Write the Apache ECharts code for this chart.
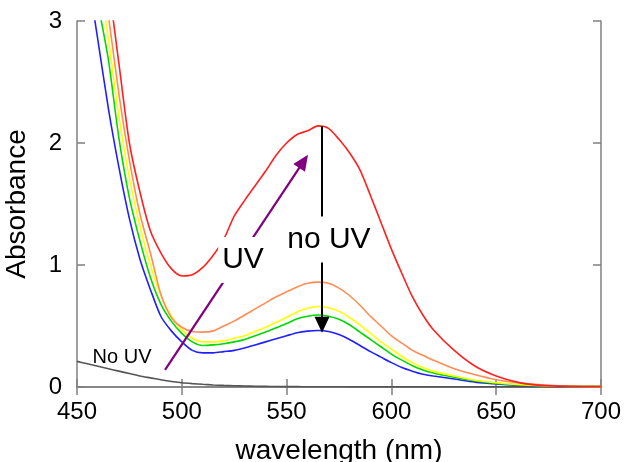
<!DOCTYPE html>
<html>
<head>
<meta charset="utf-8">
<script src="https://cdn.jsdelivr.net/npm/echarts@6/dist/echarts.min.js"></script>
<style>
  html, body { margin: 0; padding: 0; background: #fff; }
  #chart { width: 624px; height: 462px; }
</style>
</head>
<body>
<div id="chart"></div>
<script>
var font = "'Liberation Sans', Arial, sans-serif";

// wavelength grid (nm)
var wl = [450, 455, 460, 465, 470, 475, 480, 485, 490, 495, 500, 505, 510, 515, 520, 525, 530, 535, 540, 545,
    550, 555, 560, 565, 570, 575, 580, 585, 590, 595, 600, 605, 610, 615, 620, 630, 640, 650, 660, 670, 680, 690, 700];

// absorbance
var red = [5.5, 4.6, 3.8, 3.3, 2.65, 2.0, 1.60, 1.28, 1.10, 0.97, 0.91, 0.92, 0.98, 1.08, 1.21, 1.40, 1.53, 1.65, 1.77, 1.90,
    2.00, 2.07, 2.10, 2.14, 2.12, 2.03, 1.92, 1.78, 1.57, 1.35, 1.13, 0.93, 0.74, 0.59, 0.47, 0.30, 0.17, 0.09, 0.04, 0.015, 0.007, 0.004, 0.003];
var orange = [5.0, 4.2, 3.6, 3.04, 2.40, 1.86, 1.42, 1.10, 0.76, 0.57, 0.49, 0.455, 0.45, 0.46, 0.50, 0.54, 0.59, 0.64, 0.69, 0.74,
    0.78, 0.82, 0.85, 0.86, 0.85, 0.81, 0.75, 0.67, 0.58, 0.50, 0.42, 0.36, 0.30, 0.26, 0.22, 0.15, 0.10, 0.06, 0.035, 0.02, 0.01, 0.005, 0.003];
var yellow = [4.5, 3.9, 3.4, 2.85, 2.22, 1.71, 1.32, 1.0, 0.75, 0.58, 0.47, 0.40, 0.37, 0.37, 0.38, 0.40, 0.42, 0.455, 0.49, 0.53,
    0.57, 0.615, 0.645, 0.66, 0.65, 0.62, 0.57, 0.51, 0.44, 0.37, 0.31, 0.25, 0.20, 0.16, 0.13, 0.09, 0.055, 0.035, 0.02, 0.012, 0.007, 0.004, 0.003];
var green = [4.3, 3.7, 3.15, 2.68, 2.04, 1.55, 1.20, 0.90, 0.68, 0.54, 0.44, 0.37, 0.34, 0.345, 0.355, 0.37, 0.39, 0.42, 0.45, 0.485,
    0.52, 0.56, 0.58, 0.59, 0.58, 0.555, 0.51, 0.45, 0.39, 0.33, 0.27, 0.22, 0.175, 0.14, 0.115, 0.08, 0.05, 0.03, 0.018, 0.01, 0.006, 0.004, 0.003];
var blue = [4.0, 3.4, 2.84, 2.28, 1.80, 1.38, 1.05, 0.80, 0.58, 0.46, 0.37, 0.30, 0.28, 0.28, 0.29, 0.30, 0.32, 0.345, 0.37, 0.395,
    0.42, 0.445, 0.458, 0.463, 0.455, 0.43, 0.39, 0.34, 0.29, 0.245, 0.20, 0.16, 0.13, 0.105, 0.09, 0.065, 0.04, 0.025, 0.015, 0.01, 0.006, 0.004, 0.003];
var noUV = [0.21, 0.19, 0.17, 0.15, 0.13, 0.11, 0.09, 0.075, 0.06, 0.045, 0.035, 0.028, 0.022, 0.017, 0.013, 0.01, 0.008, 0.006, 0.005, 0.004,
    0.003, 0.003, 0.002, 0.002, 0.002, 0.002, 0.001, 0.001, 0.001, 0.001, 0.001, 0.001, 0.001, 0.001, 0.001, 0.001, 0.001, 0.001, 0.001, 0.001, 0.001, 0.001, 0.001];

// annotations [wavelength, absorbance]
var uvArrow = [[492, 0.14], [558.1, 1.85]];
var noUvArrow = [[566.9, 2.14], [566.9, 0.51]];
var notes = [[529.2, 1.04, 'UV'], [570.2, 1.21, 'no UV'], [471.5, 0.246, 'No UV']];

var xTicks = {min: 450, max: 700, interval: 50};
var yTicks = {min: 0, max: 3, interval: 1};

function pairs(ys) {
    return wl.map(function (x, i) { return [x, ys[i]]; });
}

function curve(name, ys, color) {
    return {
        name: name,
        type: 'line',
        data: pairs(ys),
        symbol: 'none',
        smooth: 0.25,
        lineStyle: {color: color, width: 1.6},
        z: 3
    };
}

var axisLine = {show: true, lineStyle: {color: '#808080', width: 1.5}};
var axisTick = {show: true, inside: true, length: 8, lineStyle: {color: '#808080', width: 1.5}};

var option = {
    animation: false,
    backgroundColor: '#fff',
    grid: {left: 77, right: 23, top: 21, bottom: 75, containLabel: false, outerBoundsMode: 'none'},
    xAxis: [{
        type: 'value', position: 'bottom',
        min: xTicks.min, max: xTicks.max, interval: xTicks.interval,
        axisLine: axisLine, axisTick: axisTick,
        splitLine: {show: false},
        axisLabel: {fontSize: 24, color: '#000', fontFamily: font, margin: 13},
        name: 'wavelength (nm)', nameLocation: 'middle', nameGap: 50,
        nameTextStyle: {fontSize: 28, color: '#000', fontFamily: font}
    }, {
        type: 'value', position: 'top',
        min: xTicks.min, max: xTicks.max, interval: xTicks.interval,
        axisLine: axisLine, axisTick: axisTick,
        splitLine: {show: false}, axisLabel: {show: false}
    }],
    yAxis: [{
        type: 'value', position: 'left',
        min: yTicks.min, max: yTicks.max, interval: yTicks.interval,
        axisLine: axisLine, axisTick: axisTick,
        splitLine: {show: false},
        axisLabel: {fontSize: 24, color: '#000', fontFamily: font, margin: 15},
        name: 'Absorbance', nameLocation: 'middle', nameGap: 46,
        nameTextStyle: {fontSize: 28, color: '#000', fontFamily: font}
    }, {
        type: 'value', position: 'right',
        min: yTicks.min, max: yTicks.max, interval: yTicks.interval,
        axisLine: axisLine, axisTick: axisTick,
        splitLine: {show: false}, axisLabel: {show: false}
    }],
    series: [
        curve('No UV', noUV, '#555555'),
        curve('blue', blue, '#2020ff'),
        curve('green', green, '#00d800'),
        curve('yellow', yellow, '#ffff00'),
        curve('orange', orange, '#ff8c55'),
        curve('red', red, '#ff2020'),
        {
            name: 'arrows',
            type: 'line',
            data: [],
            markLine: {
                silent: true,
                animation: false,
                label: {show: false},
                data: [
                    [{coord: uvArrow[0], symbol: 'none', lineStyle: {color: '#800080', width: 2.2, type: 'solid'}},
                        {coord: uvArrow[1], symbol: 'triangle', symbolSize: [14, 16]}],
                    [{coord: noUvArrow[0], symbol: 'none', lineStyle: {color: '#000', width: 2, type: 'solid'}},
                        {coord: noUvArrow[1], symbol: 'triangle', symbolSize: [15, 16]}]
                ]
            }
        },
        {
            name: 'notes',
            type: 'scatter',
            z: 10,
            symbolSize: 0,
            itemStyle: {opacity: 1},
            data: notes.map(function (n) {
                var big = n[2] !== 'No UV';
                return {
                    value: n,
                    label: {
                        show: true,
                        position: 'inside',
                        formatter: n[2],
                        fontFamily: font,
                        color: '#000',
                        fontSize: big ? 30 : 20,
                        lineHeight: big ? 30 : 20,
                        backgroundColor: big ? '#fff' : 'transparent',
                        padding: big ? [8, 4] : 0
                    }
                };
            })
        }
    ]
};

var chart = echarts.init(document.getElementById('chart'));
chart.setOption(option);
</script>
</body>
</html>
